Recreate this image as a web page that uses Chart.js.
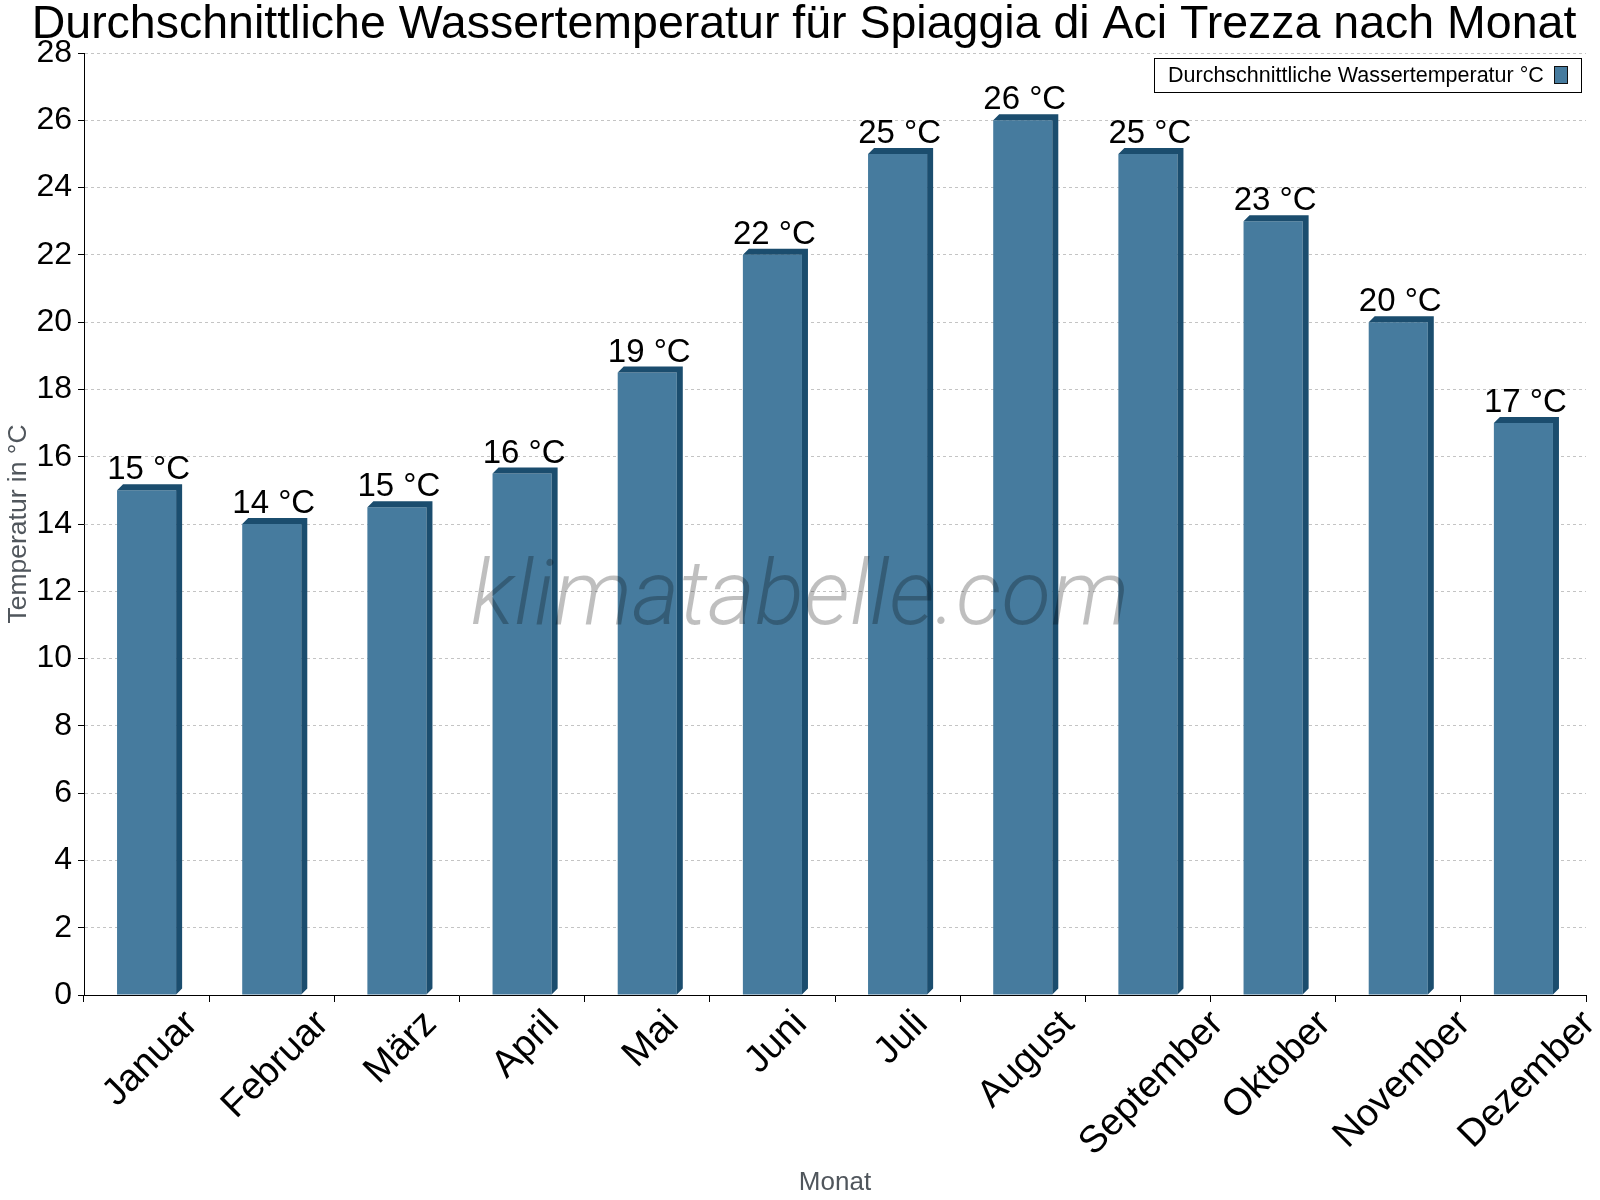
<!DOCTYPE html>
<html>
<head>
<meta charset="utf-8">
<script src="https://cdn.jsdelivr.net/npm/chart.js@4/dist/chart.umd.min.js"></script>
<style>html,body{margin:0;padding:0;background:#fff}canvas{display:block}</style>
</head>
<body>
<canvas id="c" width="1600" height="1200"></canvas>
<script>
const chartTitle = 'Durchschnittliche Wassertemperatur für Spiaggia di Aci Trezza nach Monat';
const months = ['Januar','Februar','März','April','Mai','Juni','Juli','August','September','Oktober','November','Dezember'];
const waterTemp = [15, 14, 14.5, 15.5, 18.5, 22, 25, 26, 25, 23, 20, 17];
const seriesLabel = 'Durchschnittliche Wassertemperatur °C';
const yMin = 0, yMax = 28, yStep = 2;
const xAxisTitle = 'Monat';
const yAxisTitle = 'Temperatur in °C';
const watermark = 'klimatabelle.com';

const FONT = '"Liberation Sans", Arial, sans-serif';
const FRONT = '#467b9e';
const DARK = '#1b4d6e';
const AXIS_TITLE = '#50565c';

const decor = {
  id: 'decor',
  afterDatasetsDraw(chart) {
    const ctx = chart.ctx;
    const meta = chart.getDatasetMeta(0);
    const d = 6;
    ctx.save();
    meta.data.forEach((bar, i) => {
      const p = bar.getProps(['x', 'y', 'base', 'width'], true);
      const L = p.x - p.width / 2, R = p.x + p.width / 2;
      ctx.fillStyle = DARK;
      ctx.beginPath();
      ctx.moveTo(L, p.y);
      ctx.lineTo(L + d, p.y - d);
      ctx.lineTo(R + d, p.y - d);
      ctx.lineTo(R + d, p.base - d);
      ctx.lineTo(R, p.base);
      ctx.lineTo(R, p.y);
      ctx.closePath();
      ctx.fill();
      ctx.fillStyle = '#000';
      ctx.font = '33px ' + FONT;
      ctx.textAlign = 'center';
      ctx.textBaseline = 'alphabetic';
      ctx.fillText(Math.round(waterTemp[i]) + ' °C', p.x + 2, p.y - 11);
    });
    // watermark
    ctx.font = 'italic 300 91px Roboto';
    ctx.fillStyle = 'rgba(0,0,0,0.25)';
    ctx.textAlign = 'center';
    ctx.fillText(watermark, 800, 624);
    ctx.restore();
  },
  afterDraw(chart) {
    const ctx = chart.ctx;
    const xs = chart.scales.x;
    ctx.save();
    // title
    ctx.fillStyle = '#000';
    ctx.font = '46.5px ' + FONT;
    ctx.textAlign = 'center';
    ctx.textBaseline = 'alphabetic';
    ctx.fillText(chartTitle, 804, 38);
    // x tick labels (rotated around their horizontal centre)
    ctx.font = '38px ' + FONT;
    ctx.textAlign = 'right';
    ctx.textBaseline = 'middle';
    xs.getLabels().forEach((m, i) => {
      const cx = xs.getPixelForTick(i);
      const w = ctx.measureText(m).width;
      ctx.save();
      ctx.translate(cx + w * Math.SQRT1_2 / 2 + 4, xs.top + 23);
      ctx.rotate(-Math.PI / 4);
      ctx.fillText(m, 0, 0);
      ctx.restore();
    });
    // legend
    const lx = 1154, ly = 58, lw = 427, lh = 34;
    ctx.fillStyle = '#fff';
    ctx.fillRect(lx, ly, lw, lh);
    ctx.strokeStyle = '#000';
    ctx.lineWidth = 1;
    ctx.strokeRect(lx + 0.5, ly + 0.5, lw, lh);
    ctx.fillStyle = '#000';
    ctx.font = '21.5px ' + FONT;
    ctx.textAlign = 'left';
    ctx.textBaseline = 'middle';
    ctx.fillText(chart.data.datasets[0].label, 1168, ly + lh / 2 + 1);
    ctx.fillStyle = FRONT;
    ctx.fillRect(1554, 66, 13, 17);
    ctx.strokeStyle = '#111';
    ctx.strokeRect(1554.5, 66.5, 13, 17);
    ctx.restore();
  }
};

new Chart(document.getElementById('c'), {
  type: 'bar',
  data: {
    labels: months,
    datasets: [{
      label: seriesLabel,
      data: waterTemp,
      backgroundColor: FRONT,
      borderWidth: 0,
      categoryPercentage: 1,
      barPercentage: 0.472
    }]
  },
  options: {
    responsive: false,
    animation: false,
    devicePixelRatio: 1,
    layout: { padding: { top: 53, right: 14, left: 0, bottom: 0 } },
    plugins: { legend: { display: false }, title: { display: false }, tooltip: { enabled: false } },
    scales: {
      x: {
        ticks: { display: false },
        grid: { drawOnChartArea: false, drawTicks: true, tickLength: 7, tickColor: '#000', offset: true },
        border: { color: '#000', width: 1 },
        title: { display: true, text: xAxisTitle, color: AXIS_TITLE, font: { size: 26, family: FONT }, padding: { top: 0, bottom: 2 } },
        afterFit(s) { s.height = 205; }
      },
      y: {
        min: yMin, max: yMax,
        ticks: { stepSize: yStep, color: '#000', font: { size: 32, family: FONT }, padding: 6 },
        grid: {
          color: (c) => (c.tick && c.tick.value === 0) ? 'rgba(0,0,0,0)' : '#c4c4c4',
          tickColor: '#000', tickLength: 6, tickBorderDash: []
        },
        border: { color: '#000', width: 1, dash: [3, 3] },
        title: { display: true, text: yAxisTitle, color: AXIS_TITLE, font: { size: 26.5, family: FONT }, padding: { top: 3, bottom: 0 } },
        afterFit(s) { s.width = 84; }
      }
    }
  },
  plugins: [decor]
});
</script>
</body>
</html>
